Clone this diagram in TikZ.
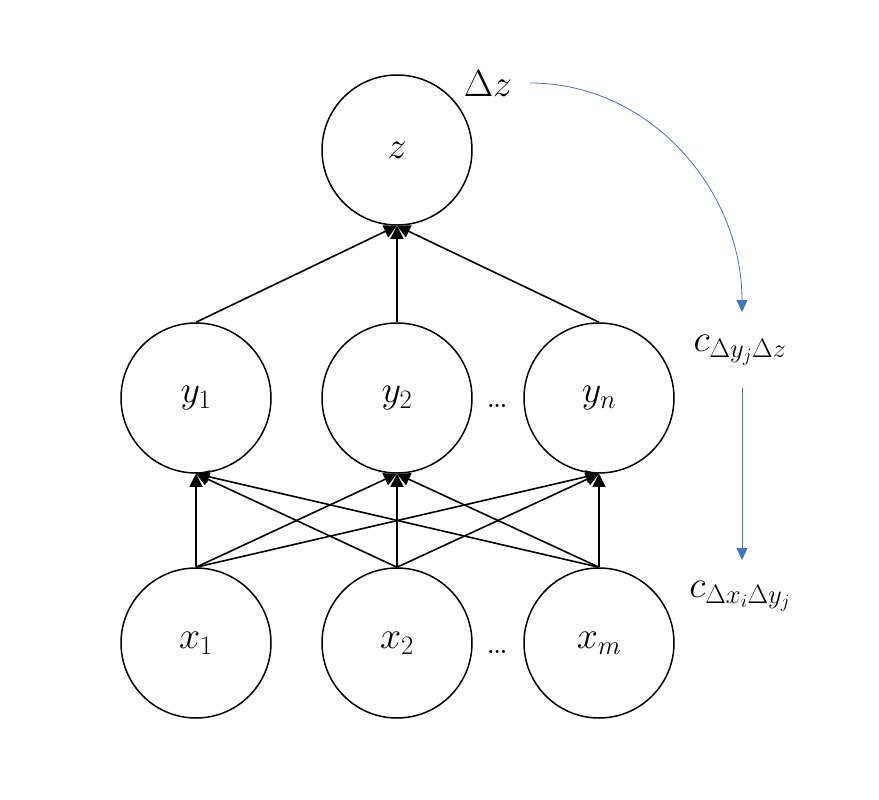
\RequirePackage{fix-cm}
\documentclass[tikz,border=0pt]{standalone}
\usetikzlibrary{arrows.meta}
\definecolor{arrowblue}{HTML}{4472C4}
\begin{document}
\begin{tikzpicture}[x=1pt,y=-1pt,
  neuron/.style={circle,draw=black,line width=1.5pt,minimum size=150pt,inner sep=0pt,font=\fontsize{38}{44}\selectfont},
  lbl/.style={font=\fontsize{38}{44}\selectfont,inner sep=0pt},
  conn/.style={line width=1.6pt,-{Triangle[length=13pt,width=13pt]}},
  blueconn/.style={draw=arrowblue,line width=0.8pt,-{Triangle[length=12pt,width=11pt]},arrowblue}]
\useasboundingbox (0,0) rectangle (879,800);
\node[neuron] (z) at (397,150) {$z$};
\node[neuron] (y1) at (196,398) {$y_1$};
\node[neuron] (y2) at (397,398) {$y_2$};
\node[neuron] (yn) at (599,398) {$y_n$};
\node[neuron] (x1) at (196,643) {$x_1$};
\node[neuron] (x2) at (397,643) {$x_2$};
\node[neuron] (xm) at (599,643) {$x_m$};
\node[lbl] (dy) at (498,406) {\ldots};
\node[lbl] (dx) at (498,652) {\ldots};
\node[lbl] (dz) at (488,84) {$\Delta z$};
\node[lbl] (c1) at (740,350) {$c_{\Delta y_j\Delta z}$};
\node[lbl] (c2) at (740,596) {$c_{\Delta x_i\Delta y_j}$};
\coordinate (bs) at (530,83);
\coordinate (be) at (742,312);
\coordinate (ls) at (742,388);
\coordinate (le) at (742,560);
\foreach \y in {y1,y2,yn}{
  \draw[conn] (\y.north) -- (z.south);
  \foreach \x in {x1,x2,xm}{
    \draw[conn] (\x.north) -- (\y.south);
  }
}
\draw[blueconn] (bs) .. controls (650,83) and (742,190) .. (be);
\draw[blueconn] (ls) -- (le);
\end{tikzpicture}
\end{document}
